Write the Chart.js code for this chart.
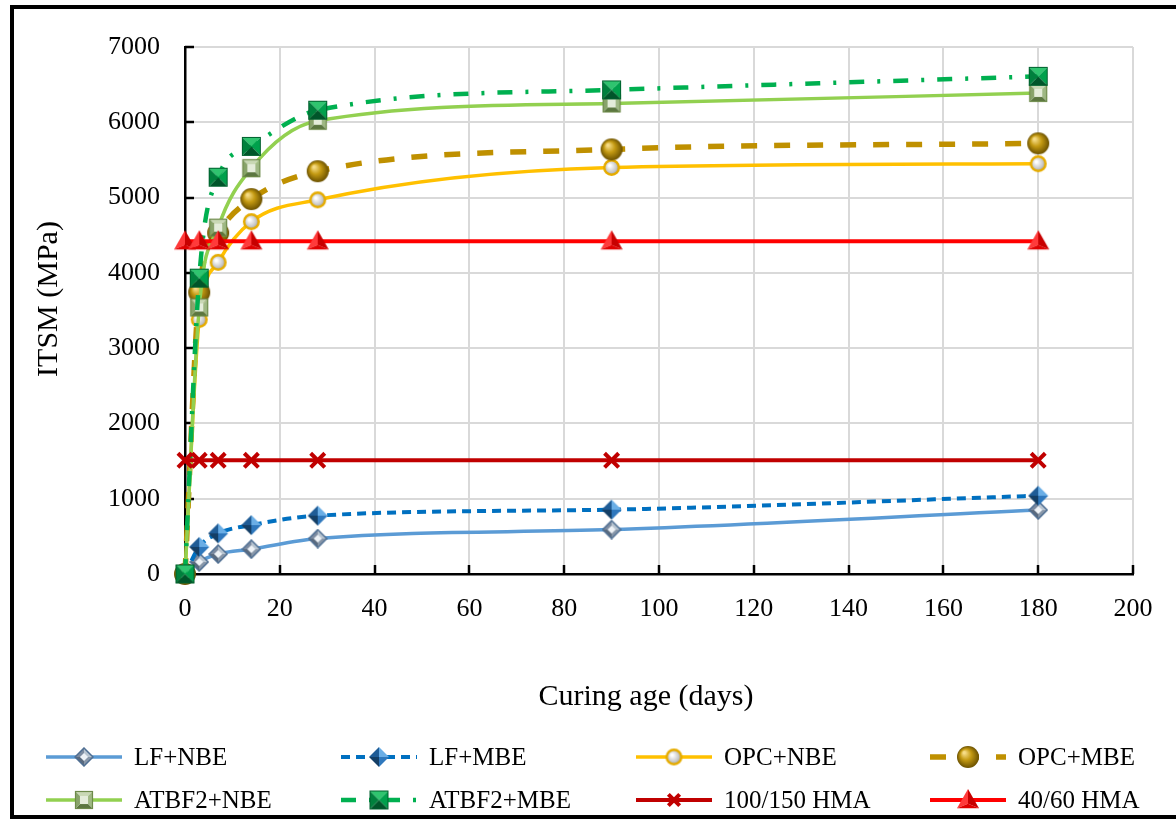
<!DOCTYPE html>
<html>
<head>
<meta charset="utf-8">
<title>ITSM vs curing age</title>
<script src="https://cdn.jsdelivr.net/npm/chart.js@4.4.1/dist/chart.umd.min.js"></script>
<style>
  html, body { margin: 0; padding: 0; background: #fff; }
  #wrap { width: 1176px; height: 821px; }
</style>
</head>
<body>
<div id="wrap"><canvas id="itsmChart" width="1176" height="821"></canvas></div>
<script>
// curing ages (days) and ITSM (MPa) per mix
const curingDays = [0, 3, 7, 14, 28, 90, 180];
const lfNbe = [0, 160, 265, 330, 470, 590, 850];
const lfMbe = [0, 360, 540, 650, 775, 855, 1040];
const opcNbe = [0, 3380, 4140, 4680, 4970, 5400, 5450];
const opcMbe = [0, 3740, 4530, 4980, 5350, 5640, 5720];
const atbfNbe = [0, 3540, 4600, 5390, 6020, 6250, 6390];
const atbfMbe = [0, 3930, 5270, 5680, 6160, 6430, 6610];
const hma100150 = [1510, 1510, 1510, 1510, 1510, 1510, 1510];
const hma4060 = [4420, 4420, 4420, 4420, 4420, 4420, 4420];

const xTickValues = [0, 20, 40, 60, 80, 100, 120, 140, 160, 180, 200];
const yTickValues = [0, 1000, 2000, 3000, 4000, 5000, 6000, 7000];

const SERIF = "'Liberation Serif', 'Times New Roman', serif";
Chart.defaults.font.family = SERIF;
Chart.defaults.color = '#000';

// ---- shaded marker images ----
function makeMarker(size, draw) {
  const c = document.createElement('canvas');
  c.width = c.height = size;
  const g = c.getContext('2d');
  g.translate(size / 2, size / 2);
  draw(g, size / 2 - 1);
  return c;
}

function faces(g, pts, colors) {
  // pyramid look: one triangle per edge, meeting in the middle
  for (let i = 0; i < pts.length; i++) {
    const a = pts[i], b = pts[(i + 1) % pts.length];
    g.beginPath();
    g.moveTo(0, 0); g.lineTo(a[0], a[1]); g.lineTo(b[0], b[1]); g.closePath();
    g.fillStyle = colors[i];
    g.fill();
  }
}

const diamondPts = r => [[0, -r], [r, 0], [0, r], [-r, 0]];
const squarePts = r => [[-r, -r], [r, -r], [r, r], [-r, r]];

const mkLfNbe = makeMarker(20, (g, r) => {
  faces(g, diamondPts(r), ['#b8c4d0', '#8796a8', '#5a6a7e', '#7c8ba0']);
  g.beginPath(); diamondPts(r).forEach((p, i) => i ? g.lineTo(p[0], p[1]) : g.moveTo(p[0], p[1])); g.closePath();
  g.strokeStyle = '#4f6f93'; g.lineWidth = 1.5; g.stroke();
  g.beginPath(); diamondPts(r * 0.45).forEach((p, i) => i ? g.lineTo(p[0], p[1]) : g.moveTo(p[0], p[1])); g.closePath();
  g.fillStyle = '#eef2f6'; g.fill();
});

const mkLfMbe = makeMarker(22, (g, r) => {
  faces(g, diamondPts(r), ['#6aaee6', '#2f78bd', '#143f66', '#1f5c96']);
});

const mkOpcNbe = makeMarker(19, (g, r) => {
  const grad = g.createRadialGradient(-2, -2, 1, 0, 0, r);
  grad.addColorStop(0, '#ffffff'); grad.addColorStop(0.6, '#c8c8c8'); grad.addColorStop(1, '#8a8a8a');
  g.beginPath(); g.arc(0, 0, r - 1.2, 0, Math.PI * 2);
  g.fillStyle = grad; g.fill();
  g.lineWidth = 2.4; g.strokeStyle = '#e6ac00'; g.stroke();
});

const mkOpcMbe = makeMarker(24, (g, r) => {
  const grad = g.createRadialGradient(-r * 0.35, -r * 0.4, 1, 0, 0, r);
  grad.addColorStop(0, '#f6dc86'); grad.addColorStop(0.45, '#c49a12'); grad.addColorStop(1, '#6b5100');
  g.beginPath(); g.arc(0, 0, r, 0, Math.PI * 2);
  g.fillStyle = grad; g.fill();
});

const mkAtbfNbe = makeMarker(20, (g, r) => {
  faces(g, squarePts(r), ['#c9d8b5', '#9fb884', '#5b7640', '#88a36a']);
  g.fillStyle = '#e4ecda';
  g.fillRect(-r * 0.45, -r * 0.45, r * 0.9, r * 0.9);
  g.strokeStyle = '#6d8a4a'; g.lineWidth = 1.2;
  g.strokeRect(-r + 0.5, -r + 0.5, 2 * r - 1, 2 * r - 1);
});

const mkAtbfMbe = makeMarker(21, (g, r) => {
  faces(g, squarePts(r), ['#2fc46f', '#00a04c', '#00552a', '#00803d']);
  g.strokeStyle = '#00602e'; g.lineWidth = 1;
  g.strokeRect(-r + 0.5, -r + 0.5, 2 * r - 1, 2 * r - 1);
});

const mkHma4060 = makeMarker(24, (g, r) => {
  const top = [0, -r], left = [-r, r * 0.75], right = [r, r * 0.75], mid = [0, r * 0.35];
  const tri = (p, col) => { g.beginPath(); g.moveTo(p[0][0], p[0][1]); p.slice(1).forEach(q => g.lineTo(q[0], q[1])); g.closePath(); g.fillStyle = col; g.fill(); };
  tri([top, left, mid], '#ff3a3a');
  tri([top, mid, right], '#c80000');
  tri([left, mid, right], '#e00000');
});

const series = [
  { label: 'LF+NBE', values: lfNbe, color: '#5b9bd5', dash: [], width: 3.5, marker: mkLfNbe },
  { label: 'LF+MBE', values: lfMbe, color: '#0070c0', dash: [9, 6], width: 4, marker: mkLfMbe },
  { label: 'OPC+NBE', values: opcNbe, color: '#ffc000', dash: [], width: 3.5, marker: mkOpcNbe },
  { label: 'OPC+MBE', values: opcMbe, color: '#bf9000', dash: [16, 17], width: 5.5, marker: mkOpcMbe },
  { label: 'ATBF2+NBE', values: atbfNbe, color: '#92d050', dash: [], width: 3.5, marker: mkAtbfNbe },
  { label: 'ATBF2+MBE', values: atbfMbe, color: '#00b050', dash: [15, 13, 3, 13], width: 4.5, marker: mkAtbfMbe },
  { label: '100/150 HMA', values: hma100150, color: '#c00000', dash: [], width: 4, marker: 'crossRot' },
  { label: '40/60 HMA', values: hma4060, color: '#ff0000', dash: [], width: 4, marker: mkHma4060 }
];

const datasets = series.map((s, i) => ({
  label: s.label,
  data: curingDays.map((d, k) => ({ x: d, y: s.values[k] })),
  borderColor: s.color,
  backgroundColor: s.color,
  borderWidth: s.width,
  borderDash: s.dash,
  cubicInterpolationMode: 'monotone',
  pointStyle: s.marker,
  pointRadius: s.marker === 'crossRot' ? 10 : 10,
  pointBorderWidth: s.marker === 'crossRot' ? 4 : 0,
  pointBorderColor: s.color,
  clip: false,
  order: series.length - i   // later series sit on top
}));

// short tick marks pointing into the plot
const innerTicks = {
  id: 'innerTicks',
  beforeDatasetsDraw(chart) {
    const { ctx, chartArea: a, scales: { x, y } } = chart;
    ctx.save();
    ctx.strokeStyle = '#000';
    ctx.lineWidth = 2.5;
    ctx.beginPath();
    xTickValues.forEach(v => {
      const px = Math.round(x.getPixelForValue(v));
      ctx.moveTo(px, a.bottom); ctx.lineTo(px, a.bottom - 9);
    });
    yTickValues.forEach(v => {
      const py = Math.round(y.getPixelForValue(v));
      ctx.moveTo(a.left, py); ctx.lineTo(a.left + 9, py);
    });
    ctx.stroke();
    ctx.restore();
  }
};

// axis titles, two-row legend and the outer frame
const decorations = {
  id: 'decorations',
  afterDraw(chart) {
    const { ctx } = chart;
    ctx.save();
    ctx.fillStyle = '#000';
    ctx.font = '30px ' + SERIF;
    ctx.textAlign = 'center';
    ctx.textBaseline = 'middle';
    ctx.fillText('Curing age (days)', 646, 697);
    ctx.save();
    ctx.translate(49, 299);
    ctx.rotate(-Math.PI / 2);
    ctx.fillText('ITSM (MPa)', 0, 0);
    ctx.restore();

    const colX = [46, 341, 636, 930];
    const rowY = [757, 800];
    ctx.font = '25px ' + SERIF;
    ctx.textAlign = 'left';
    series.forEach((s, i) => {
      const x0 = colX[i % 4], y0 = rowY[Math.floor(i / 4)];
      ctx.save();
      ctx.strokeStyle = s.color;
      ctx.lineWidth = s.width;
      ctx.setLineDash(s.dash);
      ctx.beginPath(); ctx.moveTo(x0, y0); ctx.lineTo(x0 + 76, y0); ctx.stroke();
      ctx.restore();
      ctx.save();
      ctx.strokeStyle = s.color;
      ctx.fillStyle = s.color;
      ctx.lineWidth = 4;
      Chart.helpers.drawPoint(ctx, { pointStyle: s.marker, radius: 8, rotation: 0, borderWidth: 4 }, x0 + 38, y0);
      ctx.restore();
      ctx.fillStyle = '#000';
      ctx.fillText(s.label, x0 + 88, y0 + 1);
    });

    ctx.strokeStyle = '#000';
    ctx.lineWidth = 4;
    ctx.setLineDash([]);
    ctx.strokeRect(12, 7, 1180, 810);
    ctx.restore();
  }
};

const tickFont = { family: SERIF, size: 26 };

new Chart(document.getElementById('itsmChart'), {
  type: 'line',
  data: { datasets },
  options: {
    responsive: false,
    animation: false,
    events: [],
    layout: { padding: { left: 0, top: 47, right: 43, bottom: 0 } },
    plugins: { legend: { display: false }, tooltip: { enabled: false } },
    scales: {
      x: {
        type: 'linear',
        min: 0,
        max: 200,
        afterBuildTicks: axis => { axis.ticks = xTickValues.map(v => ({ value: v })); },
        afterFit: axis => { axis.height = 821 - 574; },
        grid: { color: '#d9d9d9', lineWidth: 2, drawTicks: false },
        border: { color: '#000', width: 2.5 },
        ticks: { padding: 20, font: tickFont, color: '#000', maxRotation: 0, autoSkip: false, callback: v => String(v) }
      },
      y: {
        min: 0,
        max: 7000,
        afterBuildTicks: axis => { axis.ticks = yTickValues.map(v => ({ value: v })); },
        afterFit: axis => { axis.width = 185; },
        grid: { color: '#d9d9d9', lineWidth: 2, drawTicks: false },
        border: { color: '#000', width: 2.5 },
        ticks: { padding: 25, font: tickFont, color: '#000', callback: v => String(v) }
      }
    }
  },
  plugins: [innerTicks, decorations]
});
</script>
</body>
</html>
